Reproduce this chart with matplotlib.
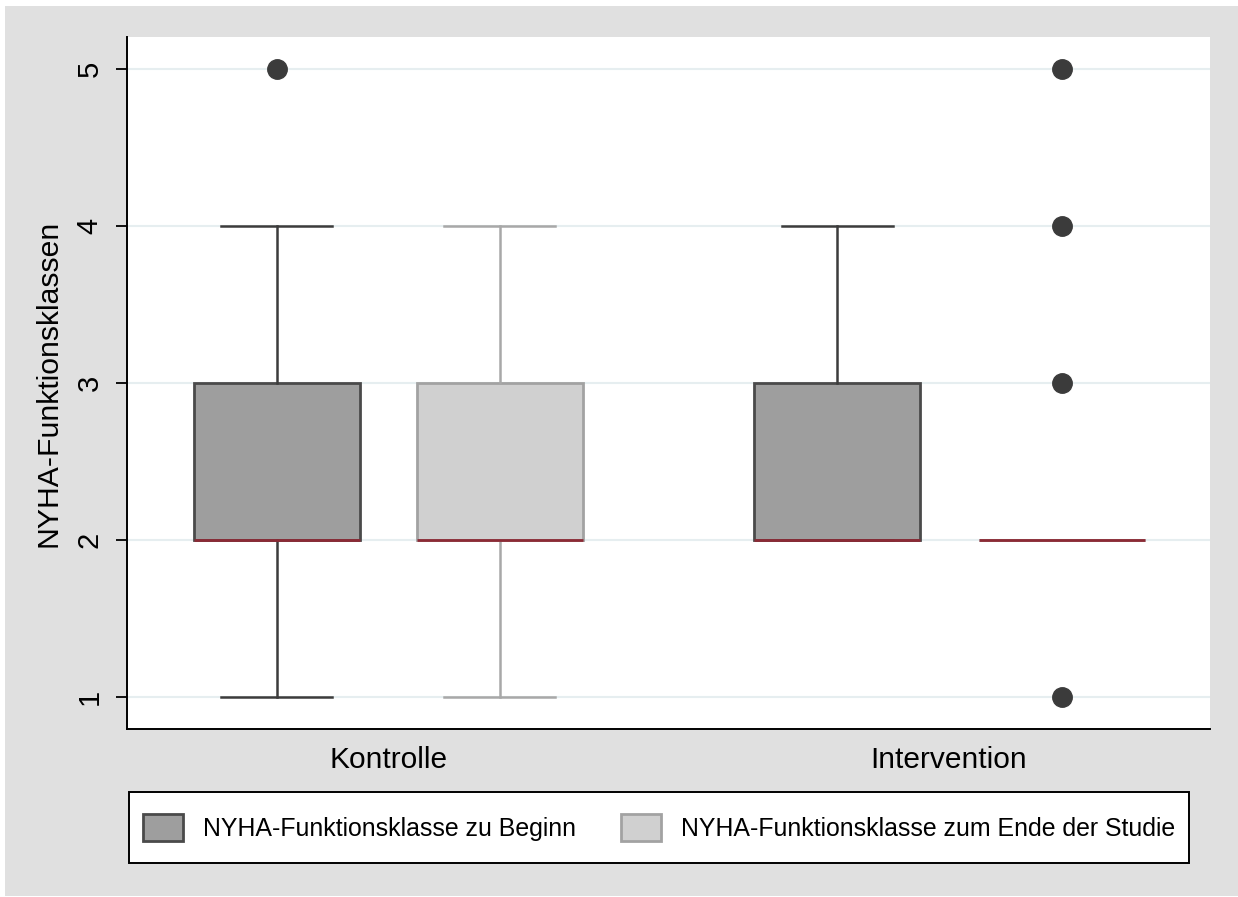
import matplotlib as mpl
mpl.use('Agg')
import matplotlib.pyplot as plt
from matplotlib.patches import Patch, Rectangle

plt.rcParams['font.family'] = ['Liberation Sans', 'DejaVu Sans']

groups = ['Kontrolle', 'Intervention']
series = ['NYHA-Funktionsklasse zu Beginn', 'NYHA-Funktionsklasse zum Ende der Studie']

# box stats per box: Kontrolle Beginn, Kontrolle Ende, Intervention Beginn, Intervention Ende
whislo = [1, 1, 2, 2]
q1 = [2, 2, 2, 2]
med = [2, 2, 2, 2]
q3 = [3, 3, 3, 2]
whishi = [4, 4, 4, 2]
fliers = [[5], [], [], [1, 3, 4, 5]]
series_of_box = [0, 1, 0, 1]

positions = [0.1385, 0.3444, 0.6556, 0.8633]
group_pos = [0.2415, 0.7585]

fill = ['#9e9e9e', '#d0d0d0']
edge = ['#4a4a4a', '#a2a2a2']
whisk = ['#3c3c3c', '#a8a8a8']

fig = plt.figure(figsize=(12.38, 8.97), dpi=100)
fig.patch.set_facecolor('white')
fig.patches.append(Rectangle((5 / 1238, 1 / 897), 1, 890 / 897, transform=fig.transFigure,
                             facecolor='#e0e0e0', edgecolor='none', zorder=-10))

ax = fig.add_axes([127 / 1238, 1 - 729 / 897, (1210 - 127) / 1238, (729 - 37) / 897])
ax.set_facecolor('white')

for i in range(len(positions)):
    s = series_of_box[i]
    st = [dict(whislo=whislo[i], q1=q1[i], med=med[i], q3=q3[i], whishi=whishi[i], fliers=fliers[i])]
    ax.bxp(st, positions=[positions[i]], widths=0.154, capwidths=0.1025, patch_artist=True,
           boxprops=dict(facecolor=fill[s], edgecolor=edge[s], linewidth=2),
           whiskerprops=dict(color=whisk[s], linewidth=1.8),
           capprops=dict(color=whisk[s], linewidth=1.8),
           medianprops=dict(color='#8c2a35', linewidth=2),
           flierprops=dict(marker='o', markersize=14, markerfacecolor='#3b3b3b',
                           markeredgecolor='#3b3b3b'),
           manage_ticks=False, zorder=3)

ax.set_xlim(0, 1)
ax.set_ylim(0.796, 5.204)
ax.set_yticks([1, 2, 3, 4, 5])
ax.set_yticklabels(['1', '2', '3', '4', '5'], rotation=90, va='center')
ax.set_xticks(group_pos)
ax.set_xticklabels(groups)
ax.yaxis.grid(True, color='#e6eef0', linewidth=1.5, zorder=0)
ax.set_axisbelow(True)
ax.tick_params(axis='y', length=8, width=1.3, pad=9, labelsize=21)
ax.tick_params(axis='x', length=0, pad=12, labelsize=21.5)
ax.set_ylabel('NYHA-Funktionsklassen', fontsize=21.7, labelpad=9)
for side in ['top', 'right']:
    ax.spines[side].set_visible(False)
for side in ['left', 'bottom']:
    ax.spines[side].set_linewidth(1.4)
    ax.spines[side].set_color('black')

# legend box drawn separately so its height matches
lx, ly, lw, lh = 129 / 1238, 1 - 863 / 897, (1189 - 129) / 1238, 71 / 897
fig.patches.append(Rectangle((lx, ly), lw, lh, transform=fig.transFigure,
                             facecolor='white', edgecolor='black', linewidth=1.4, zorder=1))
handles = [Patch(facecolor=fill[k], edgecolor=edge[k], linewidth=2, label=series[k]) for k in range(2)]
leg = fig.legend(handles=handles, ncol=2, loc='center left', mode='expand',
                 bbox_to_anchor=(lx, ly, lw, lh),
                 borderaxespad=0, fontsize=17.9, handlelength=1.64, handleheight=1.3,
                 handletextpad=0.8, borderpad=0.55, frameon=False)
leg.set_zorder(2)

fig.savefig('out.png', dpi=100, facecolor=fig.get_facecolor())
